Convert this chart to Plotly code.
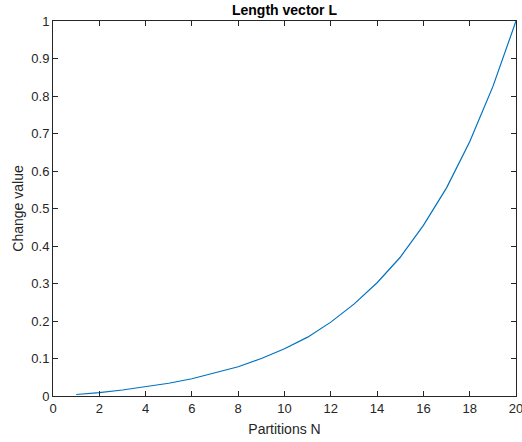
import plotly.graph_objects as go

partitions = list(range(1, 21))
change_value = [0.004, 0.009, 0.016, 0.024, 0.034, 0.046, 0.061, 0.078, 0.100, 0.126,
                0.157, 0.197, 0.245, 0.302, 0.370, 0.455, 0.555, 0.678, 0.825, 1.000]
x_ticks = list(range(0, 21, 2))
y_ticks = [round(0.1 * i, 1) for i in range(11)]

axcol = "#262626"
font_fam = "Liberation Sans, Arial, Helvetica, sans-serif"

fig = go.Figure()
fig.add_trace(go.Scatter(x=partitions, y=change_value, mode="lines",
                         line=dict(color="#0072BD", width=1.2), showlegend=False))

fig.update_layout(
    width=522, height=442,
    margin=dict(l=53, r=6, t=21, b=46),
    paper_bgcolor="white", plot_bgcolor="white",
    font=dict(family=font_fam, color=axcol, size=13),
    title=dict(text="<b>Length vector L</b>", x=(53 + 516) / 2 / 522, xanchor="center",
               yref="container", y=1 - 10 / 442, yanchor="middle",
               font=dict(size=14, color="black", family=font_fam)),
    xaxis=dict(range=[0, 20], tickvals=x_ticks, ticks="inside", ticklen=5, tickcolor=axcol,
               showline=True, linecolor=axcol, linewidth=1, mirror="ticks", showgrid=False,
               zeroline=False, tickfont=dict(size=13, color=axcol), ticklabeloverflow="allow",
               automargin=False,
               title=dict(text="Partitions N", font=dict(size=14, color=axcol), standoff=9)),
    yaxis=dict(range=[0, 1], tickvals=y_ticks, ticks="inside", ticklen=5, tickcolor=axcol,
               showline=True, linecolor=axcol, linewidth=1, mirror="ticks", showgrid=False,
               zeroline=False, tickfont=dict(size=13, color=axcol), automargin=False,
               title=dict(text="Change value", font=dict(size=14, color=axcol), standoff=4)),
)

fig.write_html("out.html")
